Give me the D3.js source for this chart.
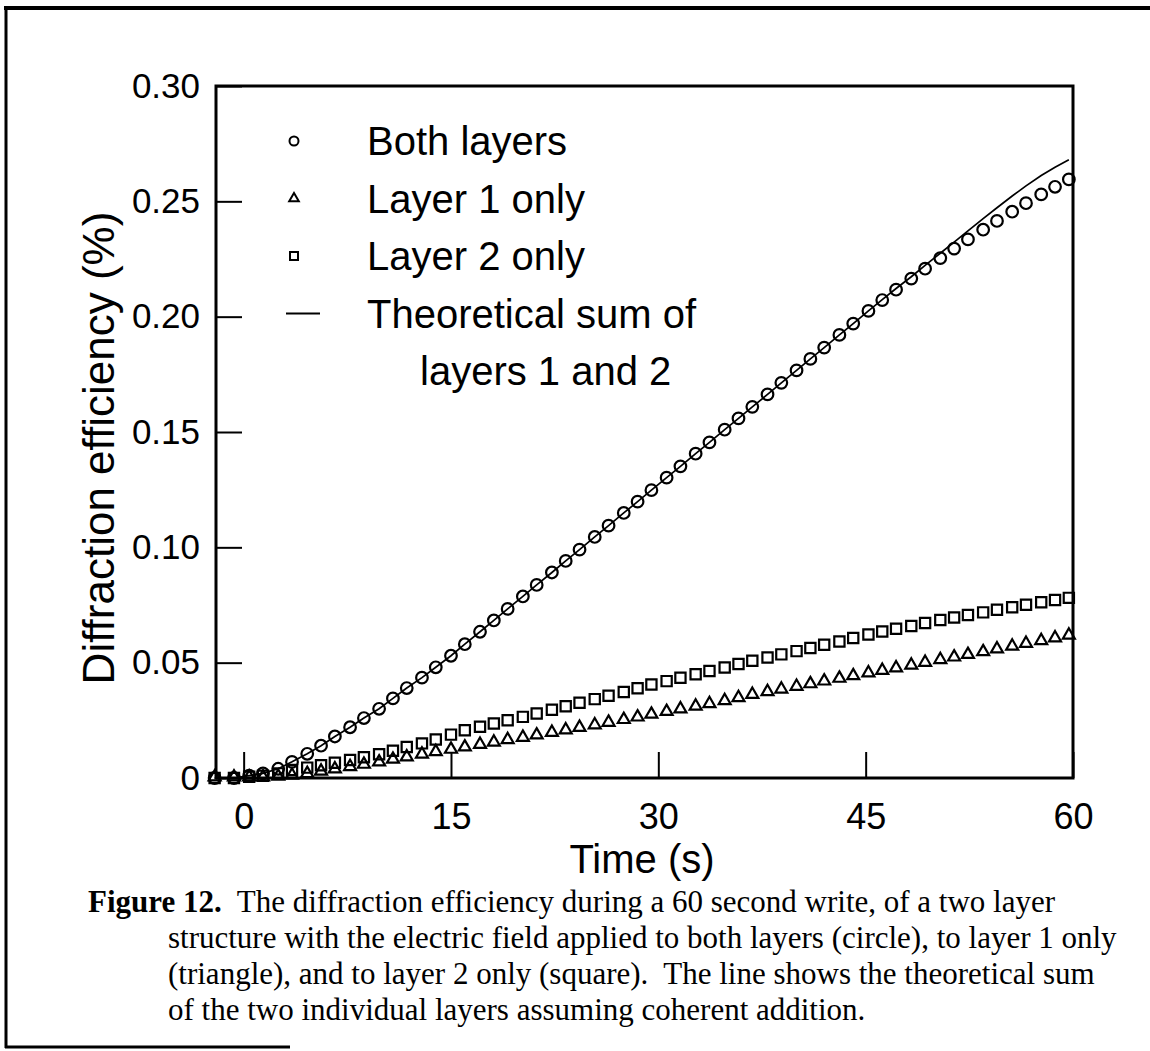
<!DOCTYPE html>
<html>
<head>
<meta charset="utf-8">
<script src="https://cdn.jsdelivr.net/npm/d3@7"></script>
<style>
  body { margin: 0; background: #fff; }
  svg { display: block; }
  .sans { font-family: "Liberation Sans", Arial, Helvetica, sans-serif; }
  .serif { font-family: "Liberation Serif", "Times New Roman", serif; }
</style>
</head>
<body>
<svg id="fig" width="1150" height="1051"></svg>
<script>
// Sample times (s), shared by all series
const times = [-2.1, -0.7, 0.4, 1.4, 2.5, 3.5, 4.6, 5.6, 6.6, 7.7, 8.7, 9.8, 10.8, 11.8, 12.9, 13.9,
  15.0, 16.0, 17.1, 18.1, 19.1, 20.2, 21.2, 22.3, 23.3, 24.3, 25.4, 26.4, 27.5, 28.5, 29.5,
  30.6, 31.6, 32.7, 33.7, 34.8, 35.8, 36.8, 37.9, 38.9, 40.0, 41.0, 42.0, 43.1, 44.1, 45.2,
  46.2, 47.2, 48.3, 49.3, 50.4, 51.4, 52.4, 53.5, 54.5, 55.6, 56.6, 57.7, 58.7, 59.7];

// Diffraction efficiency (%)
const bothLayers = [0, 0, 0.001, 0.002, 0.004, 0.007, 0.0105, 0.014, 0.018, 0.022, 0.026, 0.030, 0.0345, 0.039, 0.0435, 0.048,
  0.053, 0.058, 0.0634, 0.0683, 0.0733, 0.0787, 0.0837, 0.0891, 0.0941, 0.099, 0.1045, 0.1094, 0.1149, 0.1198, 0.1248,
  0.1302, 0.1351, 0.1406, 0.1455, 0.151, 0.1559, 0.1609, 0.1663, 0.1713, 0.1767, 0.1817, 0.1866, 0.1921, 0.197, 0.2025,
  0.2072, 0.2117, 0.2165, 0.2208, 0.2254, 0.2295, 0.2335, 0.2377, 0.2415, 0.2455, 0.2492, 0.2530, 0.2563, 0.2595];

const layer1 = [0, 0, 0, 0, 0.0003, 0.0008, 0.0015, 0.0025, 0.0035, 0.0045, 0.0055, 0.0065, 0.0077, 0.0087, 0.0099, 0.011,
  0.012, 0.013, 0.0141, 0.0151, 0.0162, 0.0172, 0.0182, 0.0193, 0.0204, 0.0215, 0.0226, 0.0237, 0.0249, 0.026, 0.0272,
  0.0284, 0.0295, 0.0307, 0.0318, 0.0331, 0.0344, 0.0358, 0.037, 0.0381, 0.0393, 0.0404, 0.0416, 0.0428, 0.0439, 0.0451,
  0.0462, 0.0473, 0.0485, 0.0497, 0.0509, 0.052, 0.0531, 0.0543, 0.0555, 0.0567, 0.0579, 0.0591, 0.0603, 0.0615];

const layer2 = [0, 0, 0.0005, 0.001, 0.002, 0.0035, 0.0045, 0.0055, 0.0066, 0.0078, 0.009, 0.0103, 0.0118, 0.0134, 0.015, 0.0167,
  0.0188, 0.0207, 0.0222, 0.0236, 0.025, 0.0265, 0.028, 0.0296, 0.0311, 0.0326, 0.0342, 0.0357, 0.0373, 0.0389, 0.0405,
  0.042, 0.0435, 0.045, 0.0464, 0.0479, 0.0494, 0.0508, 0.0522, 0.0536, 0.055, 0.0564, 0.0578, 0.0592, 0.0607, 0.0622,
  0.0635, 0.0647, 0.0659, 0.0672, 0.0685, 0.0696, 0.0707, 0.0718, 0.0729, 0.074, 0.0751, 0.0762, 0.0772, 0.0781];

const theorySum = [0, 0, 0.001, 0.002, 0.004, 0.007, 0.0105, 0.014, 0.018, 0.022, 0.026, 0.030, 0.0345, 0.039, 0.0435, 0.048,
  0.053, 0.058, 0.0634, 0.0683, 0.0733, 0.0787, 0.0837, 0.0891, 0.0941, 0.099, 0.1045, 0.1094, 0.1149, 0.1198, 0.1248,
  0.1302, 0.1351, 0.1406, 0.1455, 0.151, 0.1559, 0.1609, 0.1663, 0.1713, 0.1767, 0.1817, 0.1866, 0.1921, 0.197, 0.2025,
  0.2074, 0.2122, 0.2173, 0.2222, 0.2275, 0.2323, 0.2372, 0.2425, 0.2472, 0.2523, 0.2567, 0.2612, 0.2648, 0.268];

const xTicks = [0, 15, 30, 45, 60];
const yTicks = [0, 0.05, 0.10, 0.15, 0.20, 0.25, 0.30];
const legendLabels = ["Both layers", "Layer 1 only", "Layer 2 only", "Theoretical sum of", "layers 1 and 2"];
const captionLines = [
  "The diffraction efficiency during a 60 second write, of a two layer",
  "structure with the electric field applied to both layers (circle), to layer 1 only",
  "(triangle), and to layer 2 only (square).  The line shows the theoretical sum",
  "of the two individual layers assuming coherent addition."
];

let svg = d3.select("#fig");

// page frame (scanned page border)
svg.append("line").attr("x1", 4).attr("x2", 1150).attr("y1", 8).attr("y2", 8)
  .attr("stroke", "#000").attr("stroke-width", 4);
svg.append("line").attr("x1", 6).attr("x2", 6).attr("y1", 6).attr("y2", 1048)
  .attr("stroke", "#000").attr("stroke-width", 3);
svg.append("line").attr("x1", 5).attr("x2", 290).attr("y1", 1047).attr("y2", 1047)
  .attr("stroke", "#000").attr("stroke-width", 3);

let plot = {left: 216, right: 1073, top: 86, bottom: 778};

let x = d3.scaleLinear().domain([-2, 60]).range([plot.left, plot.right]);
let y = d3.scaleLinear().domain([0, 0.30]).range([plot.bottom, plot.top]);

// x axis: inward ticks
let xAxis = svg.append("g")
  .attr("transform", `translate(0, ${plot.bottom})`)
  .call(d3.axisBottom(x).tickValues(xTicks).tickFormat(d3.format("d"))
    .tickSizeInner(-26).tickSizeOuter(0).tickPadding(25));
xAxis.select(".domain").remove();
xAxis.selectAll("line").attr("stroke-width", 2);
xAxis.selectAll("text").attr("class", "sans").attr("font-size", 36).attr("fill", "#000");

// y axis: inward ticks
let yAxis = svg.append("g")
  .attr("transform", `translate(${plot.left}, 0)`)
  .call(d3.axisLeft(y).tickValues(yTicks).tickFormat(d => d === 0 ? "0" : d.toFixed(2))
    .tickSizeInner(-26).tickSizeOuter(0).tickPadding(16));
yAxis.select(".domain").remove();
yAxis.selectAll("line").attr("stroke-width", 2);
yAxis.selectAll("text").attr("class", "sans").attr("font-size", 35).attr("fill", "#000");

// plot frame
svg.append("rect")
  .attr("x", plot.left).attr("y", plot.top)
  .attr("width", plot.right - plot.left).attr("height", plot.bottom - plot.top)
  .attr("fill", "none").attr("stroke", "#000").attr("stroke-width", 3);

// axis titles
svg.append("text").attr("class", "sans")
  .attr("transform", `translate(114, ${(plot.top + plot.bottom) / 2 + 16}) rotate(-90)`)
  .attr("text-anchor", "middle").attr("font-size", 44)
  .text("Diffraction efficiency (%)");

svg.append("text").attr("class", "sans")
  .attr("x", 642).attr("y", 873)
  .attr("text-anchor", "middle").attr("font-size", 40)
  .text("Time (s)");

// theoretical line
let line = d3.line().x((d, i) => x(times[i])).y(d => y(d));
svg.append("path").datum(theorySum)
  .attr("d", line).attr("fill", "none").attr("stroke", "#000").attr("stroke-width", 1.7);

let marks = svg.append("g").attr("fill", "#fff").attr("fill-opacity", 0)
  .attr("stroke", "#000").attr("stroke-width", 2.2);

let triangle = d3.symbol(d3.symbolTriangle, 62);
let square = d3.symbol(d3.symbolSquare, 105);

marks.selectAll("path.tri").data(layer1).join("path")
  .attr("class", "tri")
  .attr("transform", (d, i) => `translate(${x(times[i])}, ${y(d) - 1})`)
  .attr("d", triangle);

marks.selectAll("path.sq").data(layer2).join("path")
  .attr("class", "sq")
  .attr("transform", (d, i) => `translate(${x(times[i])}, ${y(d)})`)
  .attr("d", square);

marks.selectAll("circle").data(bothLayers).join("circle")
  .attr("cx", (d, i) => x(times[i])).attr("cy", d => y(d)).attr("r", 5.8);

// legend
let legend = svg.append("g").attr("class", "sans");
let rowY = i => 141 + i * 57.5;
legend.append("circle").attr("cx", 294).attr("cy", rowY(0)).attr("r", 4.5)
  .attr("fill", "none").attr("stroke", "#000").attr("stroke-width", 2);
legend.append("path").attr("transform", `translate(294, ${rowY(1)})`)
  .attr("d", d3.symbol(d3.symbolTriangle, 40)())
  .attr("fill", "none").attr("stroke", "#000").attr("stroke-width", 2);
legend.append("path").attr("transform", `translate(294, ${rowY(2)})`)
  .attr("d", d3.symbol(d3.symbolSquare, 64)())
  .attr("fill", "none").attr("stroke", "#000").attr("stroke-width", 2);
legend.append("line").attr("x1", 286).attr("x2", 320).attr("y1", rowY(3)).attr("y2", rowY(3))
  .attr("stroke", "#000").attr("stroke-width", 2);

legend.selectAll("text").data(legendLabels).join("text")
  .attr("x", (d, i) => i === 4 ? 420 : 367)
  .attr("y", (d, i) => rowY(i) + 14)
  .attr("font-size", 40)
  .text(d => d);

// caption
let cap = svg.append("g").attr("class", "serif").attr("font-size", 31);
let first = cap.append("text").attr("x", 88).attr("y", 912);
first.append("tspan").attr("font-weight", "bold").text("Figure 12.");
first.append("tspan").attr("dx", 15).text(captionLines[0]);
cap.selectAll("text.rest").data(captionLines.slice(1)).join("text")
  .attr("class", "rest")
  .attr("x", 168).attr("y", (d, i) => 948 + i * 36)
  .attr("xml:space", "preserve")
  .style("white-space", "pre")
  .text(d => d);
</script>
</body>
</html>
